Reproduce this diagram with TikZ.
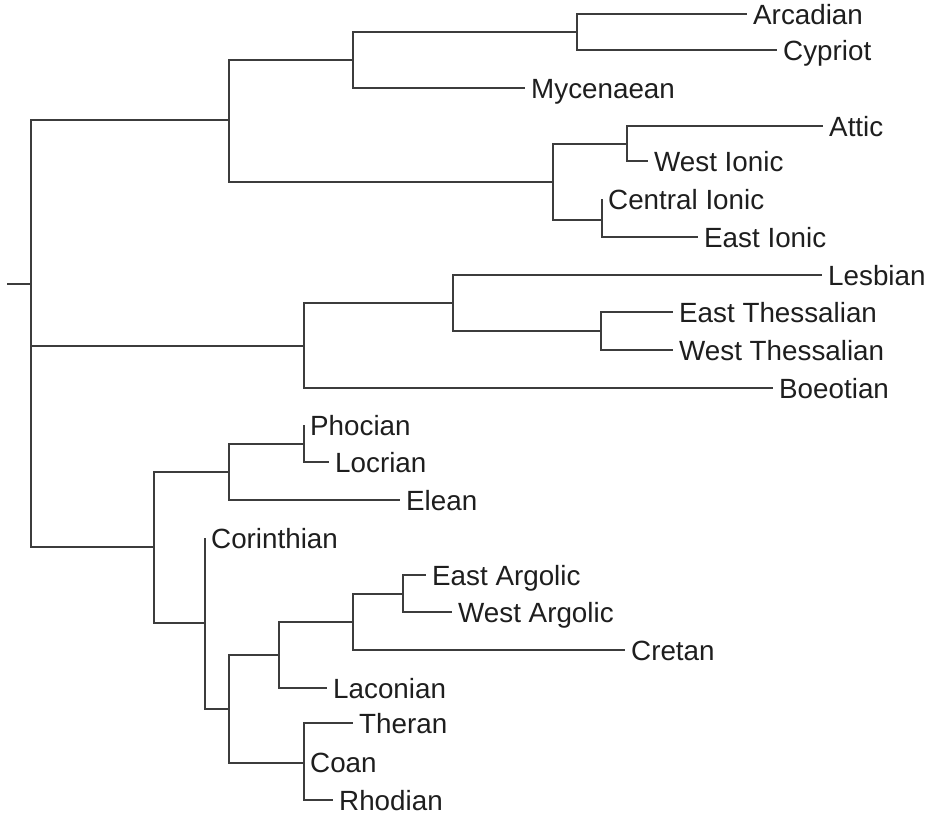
\documentclass[tikz,border=0pt]{standalone}
\usepackage{fontspec}
\setmainfont{Liberation Sans}
\definecolor{edgegray}{HTML}{3C3C3C}
\definecolor{labelink}{HTML}{1E1E1E}
\begin{document}
\begin{tikzpicture}[x=1pt,y=-1pt,
  branch/.style={draw=edgegray, line width=1.4pt},
  leaf/.style={anchor=west, inner xsep=6pt, inner ysep=0pt,
    text height=20pt, text depth=0pt, text=labelink,
    font=\fontsize{27.8}{32}\selectfont}]
\useasboundingbox (0,0) rectangle (927,812);

% internal nodes of the tree
\coordinate (stub) at (7,284);
\coordinate (r)    at (31,284);
\coordinate (nA)   at (229,120);
\coordinate (nB)   at (353,60);
\coordinate (nAC)  at (577,32);
\coordinate (nI)   at (553,182);
\coordinate (nAW)  at (627,144);
\coordinate (nCE)  at (602,220);
\coordinate (nAe)  at (304,346);
\coordinate (nLT)  at (453,303);
\coordinate (nTh)  at (601,331);
\coordinate (nD)   at (154,547);
\coordinate (nPE)  at (229,472);
\coordinate (nPL)  at (304,444);
\coordinate (nC)   at (205,623);
\coordinate (nS)   at (229,709);
\coordinate (nAL)  at (279,655);
\coordinate (nAr)  at (353,622);
\coordinate (nEW)  at (403,594);
\coordinate (nIs)  at (304,763);

% leaves
\node[leaf] (arcadian)  at (747,14)  {Arcadian};
\node[leaf] (cypriot)   at (777,50)  {Cypriot};
\node[leaf] (mycenaean) at (525,88)  {Mycenaean};
\node[leaf] (attic)     at (823,126) {Attic};
\node[leaf] (westionic) at (648,161) {West Ionic};
\node[leaf] (centionic) at (602,199) {Central Ionic};
\node[leaf] (eastionic) at (698,237) {East Ionic};
\node[leaf] (lesbian)   at (822,275) {Lesbian};
\node[leaf] (eastthess) at (673,312) {East Thessalian};
\node[leaf] (westthess) at (673,350) {West Thessalian};
\node[leaf] (boeotian)  at (773,388) {Boeotian};
\node[leaf] (phocian)   at (304,425) {Phocian};
\node[leaf] (locrian)   at (329,462) {Locrian};
\node[leaf] (elean)     at (400,500) {Elean};
\node[leaf] (corinth)   at (205,538) {Corinthian};
\node[leaf] (eastarg)   at (426,575) {East Argolic};
\node[leaf] (westarg)   at (452,612) {West Argolic};
\node[leaf] (cretan)    at (625,650) {Cretan};
\node[leaf] (laconian)  at (327,688) {Laconian};
\node[leaf] (theran)    at (353,723) {Theran};
\node[leaf] (coan)      at (304,762) {Coan};
\node[leaf] (rhodian)   at (333,800) {Rhodian};

% branches
\draw[branch] (stub) -- (r);
\draw[branch] (r) |- (nA);
\draw[branch] (r) |- (nAe);
\draw[branch] (r) |- (nD);

\draw[branch] (nA) |- (nB);
\draw[branch] (nA) |- (nI);
\draw[branch] (nB) |- (nAC);
\draw[branch] (nB) |- (mycenaean.west);
\draw[branch] (nAC) |- (arcadian.west);
\draw[branch] (nAC) |- (cypriot.west);
\draw[branch] (nI) |- (nAW);
\draw[branch] (nI) |- (nCE);
\draw[branch] (nAW) |- (attic.west);
\draw[branch] (nAW) |- (westionic.west);
\draw[branch] (nCE) |- (centionic.west);
\draw[branch] (nCE) |- (eastionic.west);

\draw[branch] (nAe) |- (nLT);
\draw[branch] (nAe) |- (boeotian.west);
\draw[branch] (nLT) |- (lesbian.west);
\draw[branch] (nLT) |- (nTh);
\draw[branch] (nTh) |- (eastthess.west);
\draw[branch] (nTh) |- (westthess.west);

\draw[branch] (nD) |- (nPE);
\draw[branch] (nD) |- (nC);
\draw[branch] (nPE) |- (nPL);
\draw[branch] (nPE) |- (elean.west);
\draw[branch] (nPL) |- (phocian.west);
\draw[branch] (nPL) |- (locrian.west);
\draw[branch] (nC) |- (corinth.west);
\draw[branch] (nC) |- (nS);
\draw[branch] (nS) |- (nAL);
\draw[branch] (nS) |- (nIs);
\draw[branch] (nAL) |- (nAr);
\draw[branch] (nAL) |- (laconian.west);
\draw[branch] (nAr) |- (nEW);
\draw[branch] (nAr) |- (cretan.west);
\draw[branch] (nEW) |- (eastarg.west);
\draw[branch] (nEW) |- (westarg.west);
\draw[branch] (nIs) |- (theran.west);
\draw[branch] (nIs) |- (coan.west);
\draw[branch] (nIs) |- (rhodian.west);
\end{tikzpicture}
\end{document}
